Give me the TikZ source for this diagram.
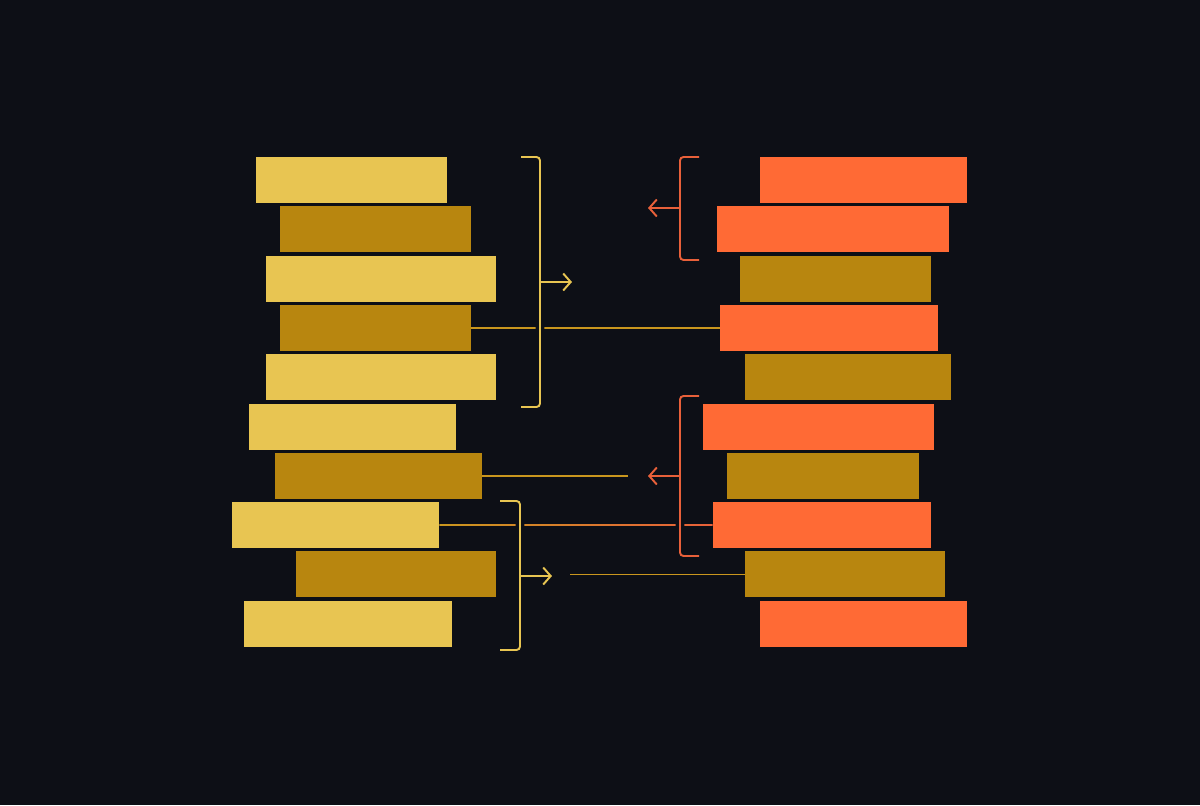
\documentclass[tikz,border=0pt]{standalone}
\usetikzlibrary{arrows.meta,positioning}
\definecolor{bg}{HTML}{0D0F16}
\definecolor{lite}{HTML}{E8C552}
\definecolor{gold}{HTML}{B8860F}
\definecolor{hot}{HTML}{FF6A35}
\definecolor{wire}{HTML}{C9961E}
\definecolor{hotwire}{HTML}{E8603A}
\tikzset{
  bar/.style={ rectangle, inner sep=0pt, minimum height=0.92cm },
  brk/.style={ line width=1.1pt, rounded corners=2pt, preaction={draw=bg, line width=5pt} },
  tip/.style={ line width=1.1pt, -{Straight Barb[length=1.5mm, width=3.4mm]} },
  link/.style={ line width=1pt, draw=wire }
}
\begin{document}
\begin{tikzpicture}[x=0.02cm, y=-0.02cm]
  \fill[bg] (0,0) rectangle (1200,805);
  % left stack
  \foreach \n/\a/\b/\c in {1/256/447/lite, 2/280/471/gold, 3/266/496/lite, 4/280/471/gold,
      5/266/496/lite, 6/249/456/lite, 7/275/482/gold, 8/232/439/lite, 9/296/496/gold, 10/244/452/lite}
    \node[bar, fill=\c, minimum width={(\b-\a)*0.2mm}] (l\n) at ({(\a+\b)/2}, {157+(\n-1)*49.3+23}) {};
  % right stack
  \foreach \n/\a/\b/\c in {1/760/967/hot, 2/717/949/hot, 3/740/931/gold, 4/720/938/hot,
      5/745/951/gold, 6/703/934/hot, 7/727/919/gold, 8/713/931/hot, 9/745/945/gold, 10/760/967/hot}
    \node[bar, fill=\c, minimum width={(\b-\a)*0.2mm}] (r\n) at ({(\a+\b)/2}, {157+(\n-1)*49.3+23}) {};

  \coordinate (e7) at (628, 0);
  \coordinate (s9) at (570, 0);
  \draw[link] (l4.east) -- (r4.west);
  \draw[link] (l7.east) -- (e7 |- l7.east);
  \draw[link] (s9 |- r9.west) -- (r9.west);
  \shade[left color=wire, right color=hotwire]
    ([yshift=-0.5pt]l8.east) rectangle ([yshift=0.5pt]r8.west);

  % brackets
  \draw[brk, lite] (521,157) -- (540,157) -- (540,407) -- (521,407);
  \draw[tip, lite] (540,282) -- (572,282);
  \draw[brk, lite] (500,501) -- (520,501) -- (520,650) -- (500,650);
  \draw[tip, lite] (520,576) -- (552,576);
  \draw[brk, hotwire] (699,157) -- (680,157) -- (680,260) -- (699,260);
  \draw[tip, hotwire] (680,208) -- (648,208);
  \draw[brk, hotwire] (699,396) -- (680,396) -- (680,556) -- (699,556);
  \draw[tip, hotwire] (680,476) -- (648,476);
\end{tikzpicture}
\end{document}
